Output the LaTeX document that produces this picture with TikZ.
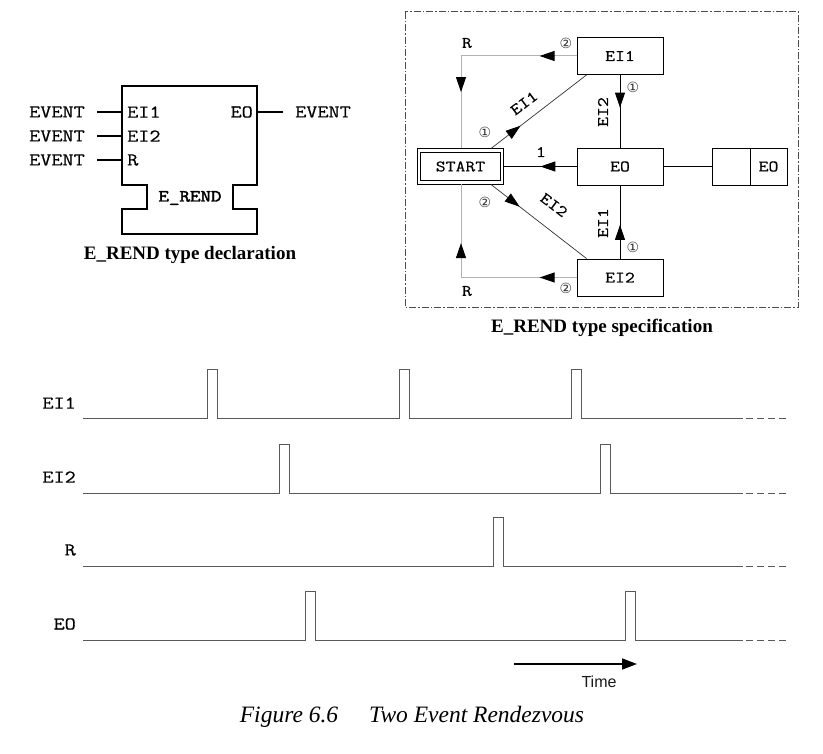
\documentclass[tikz,border=0pt]{standalone}
\usepackage{fontspec}
\setmainfont{Liberation Serif}
\setsansfont{Liberation Sans}
\setmonofont[FakeStretch=1.2,FakeBold=0.6]{Latin Modern Mono}
\newfontfamily\ttheavy[FakeStretch=1.2,FakeBold=2.5]{Latin Modern Mono}
\newfontfamily\circfont{DejaVu Sans}
\usetikzlibrary{arrows.meta,calc,positioning,decorations.markings}
\tikzset{
  blk/.style={line width=1.6pt},
  port/.style={font=\fontsize{18}{18}\selectfont\ttfamily, inner sep=0pt},
  statebox/.style={draw, line width=0.8pt, minimum width=86pt, minimum height=37pt, inner sep=0pt, font=\fontsize{16}{16}\selectfont\ttfamily},
  lbl/.style={font=\fontsize{16}{16}\selectfont\ttfamily, inner sep=0pt},
  numc/.style={font=\fontsize{14}{14}\selectfont\circfont, text=gray!40!black, inner sep=0pt},
  midtip/.style={decoration={markings, mark=at position #1 with {\arrow{Triangle[length=15pt,width=10pt,color=black]}}}, postaction={decorate}},
  wave/.style={draw=gray!70!black, line width=1pt},
  sig/.style={font=\fontsize{18}{18}\selectfont\ttfamily, anchor=east, inner sep=0pt},
}
\begin{document}
\begin{tikzpicture}[x=1pt,y=-1pt]
    \useasboundingbox (0,0) rectangle (823,754);
    % type declaration
    \draw[blk] (122,86) -- (257,86) -- (257,185) -- (233,185) -- (233,209) -- (257,209) -- (257,234) -- (122,234) -- (122,209) -- (147,209) -- (147,185) -- (122,185) -- cycle;
    \foreach \n/\y/\t in {1/112/EI1, 2/136/EI2, 3/160/R} {
        \node[port, anchor=east] (ev\n) at (85,\y) {EVENT};
        \node[port, anchor=west] (in\n) at (127,\y) {\t};
        \coordinate (e\n) at (122,\y);
        \draw[line width=1.2pt, shorten <=12pt] (ev\n.east) -- (e\n);
    }
    \node[port, anchor=east] (out) at (253,112) {EO};
    \coordinate (o1) at (257,112);
    \node[port, anchor=west] (evo) at (295,112) {EVENT};
    \draw[line width=1.2pt, shorten >=12pt] (o1) -- (evo.west);
    \node[port, font=\fontsize{17}{17}\selectfont\ttheavy] (tname) at (190,198) {E\_REND};
    \node[font=\fontsize{19}{19}\selectfont\bfseries] (decl) at (190,255) {E\_REND type declaration};

    % type specification
    \draw[dash pattern=on 7pt off 2pt on 1.5pt off 2pt, gray!60!black, line width=1pt] (405,12) rectangle (798,308);
    \node[statebox] (sei1) at (620,56) {EI1};
    \node[statebox] (seo) at (620,166.5) {EO};
    \node[statebox] (sei2) at (620,277.5) {EI2};
    \node[statebox, double, double distance=2.5pt, minimum width=83pt, minimum height=32pt, outer sep=2pt] (start) at (460.5,166.5) {START};
    \node[statebox, minimum width=38pt] (oblank) at (731,166.5) {};
    \node[statebox, minimum width=37pt, right=-0.8pt of oblank] (oeo) {EO};
    \draw[line width=0.8pt] (seo) -- (oblank);
    \draw[line width=0.8pt, midtip=0.5] (seo) -- (start);
    \node[lbl] (one) at (541,152) {1};
    \draw[line width=0.8pt, midtip=0.45] (sei1) -- (seo);
    \draw[line width=0.8pt, midtip=0.46] (sei2) -- (seo);
    \node[lbl, rotate=90] (v1) at (603,112) {EI2};
    \node[lbl, rotate=90] (v2) at (603,223) {EI1};
    \draw[gray!40!black, line width=0.7pt, midtip=0.31] ($(start.north east)+(-13,0)$) -- ($(sei1.south west)+(10,0)$);
    \draw[gray!40!black, line width=0.7pt, midtip=0.30] ($(start.south east)+(-13,0)$) -- ($(sei2.north west)+(10,0)$);
    \node[lbl, rotate=37] (d1) at (524,103) {EI1};
    \node[lbl, rotate=-37] (d2) at (554,205) {EI2};
    \coordinate (rc1) at (461,56);
    \coordinate (rc2) at (461,277.5);
    \draw[gray!60, line width=1pt, midtip=0.32] (sei1.west) -- (rc1);
    \draw[gray!60, line width=1pt, midtip=0.39] (rc1) -- (rc1 |- start.north);
    \draw[gray!60, line width=1pt, midtip=0.32] (sei2.west) -- (rc2);
    \draw[gray!60, line width=1pt, midtip=0.37] (rc2) -- (rc2 |- start.south);
    \node[lbl] (r1) at (467,43) {R};
    \node[lbl] (r2) at (467,291) {R};
    \node[numc] (c1) at (485,132) {①};
    \node[numc] (c2) at (485,202) {②};
    \node[numc] (c3) at (566,43) {②};
    \node[numc] (c4) at (566,288) {②};
    \node[numc] (c5) at (633,87) {①};
    \node[numc] (c6) at (633,247) {①};
    \node[font=\fontsize{19}{19}\selectfont\bfseries] (spec) at (602,328) {E\_REND type specification};

    % timing
    \foreach \s/\y/\ps in {EI1/419/{207,399,571}, EI2/493/{279,600}, R/566/{493}, EO/640/{305,625}} {
        \node[sig] (\s) at (76,\y-16) {\s};
        \draw[wave] (83,\y) \foreach \p in \ps { -- (\p,\y) -- (\p,\y-49) -- (\p+10,\y-49) -- (\p+10,\y) } -- (743,\y);
        \draw[wave, dash pattern=on 7pt off 4pt] (746,\y) -- (786,\y);
    }
    \coordinate (t0) at (514,664);
    \coordinate (t1) at (637,664);
    \draw[line width=1.6pt, -{Triangle[length=15pt,width=11pt]}] (t0) -- (t1);
    \node[font=\fontsize{16}{16}\selectfont\sffamily, text=gray!20!black] (time) at (599,682) {Time};
    \node[font=\fontsize{23.5}{23.5}\selectfont\itshape] (fig) at (412,717) {Figure 6.6\hspace{31pt}Two Event Rendezvous};
\end{tikzpicture}
\end{document}
